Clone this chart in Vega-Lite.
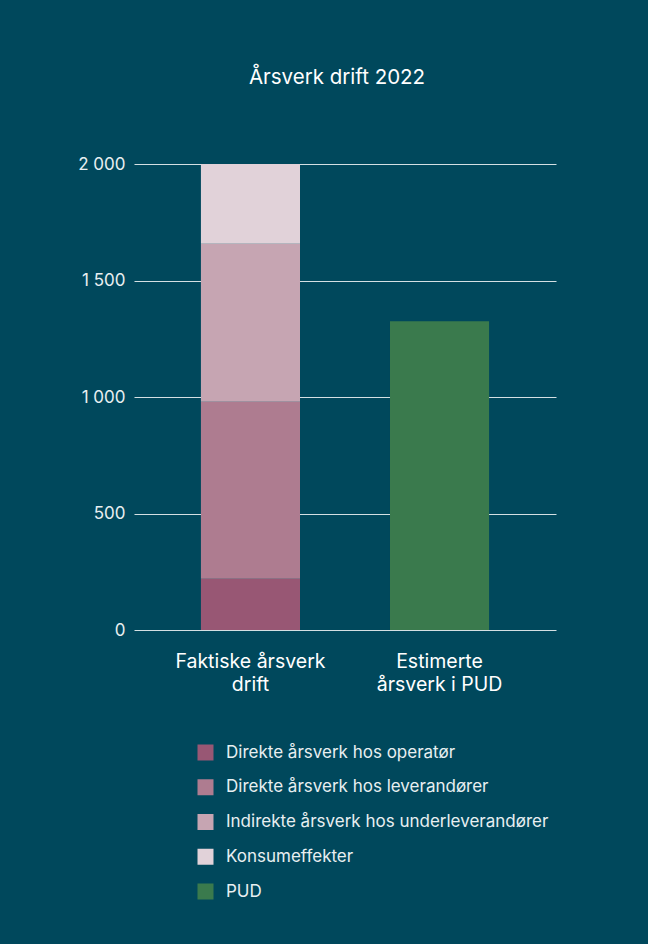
{
  "$schema": "https://vega.github.io/schema/vega-lite/v6.json",
  "width": 422,
  "height": 466,
  "autosize": {"type": "none"},
  "padding": {"left": 134, "top": 164, "right": 92, "bottom": 314},
  "background": "#00485c",
  "title": {
    "text": "Årsverk drift 2022",
    "anchor": "middle",
    "offset": 67,
    "dx": -8,
    "font": "Inter",
    "fontSize": 20.5,
    "fontWeight": "normal",
    "color": "#ffffff"
  },
  "config": {
    "locale": {"number": {"decimal": ",", "thousands": " ", "grouping": [3], "currency": ["", " kr"]}},
    "view": {"stroke": null},
    "font": "Inter"
  },
  "data": {
    "values": [
      {"kategori": "Faktiske årsverk drift", "type": "Direkte årsverk hos operatør", "arsverk": 220},
      {"kategori": "Faktiske årsverk drift", "type": "Direkte årsverk hos leverandører", "arsverk": 760},
      {"kategori": "Faktiske årsverk drift", "type": "Indirekte årsverk hos underleverandører", "arsverk": 678},
      {"kategori": "Faktiske årsverk drift", "type": "Konsumeffekter", "arsverk": 342},
      {"kategori": "Estimerte årsverk i PUD", "type": "PUD", "arsverk": 1325}
    ]
  },
  "transform": [
    {"calculate": "indexof(['Direkte årsverk hos operatør', 'Direkte årsverk hos leverandører', 'Indirekte årsverk hos underleverandører', 'Konsumeffekter', 'PUD'], datum.type)", "as": "rekkefolge"}
  ],
  "mark": {"type": "bar"},
  "encoding": {
    "x": {
      "field": "kategori",
      "type": "nominal",
      "sort": ["Faktiske årsverk drift", "Estimerte årsverk i PUD"],
      "scale": {"paddingInner": 0.476, "paddingOuter": 0.354},
      "axis": {
        "title": null,
        "labelAngle": 0,
        "domain": false,
        "ticks": false,
        "labelExpr": "datum.value == 'Faktiske årsverk drift' ? ['Faktiske årsverk', 'drift'] : ['Estimerte', 'årsverk i PUD']",
        "labelFont": "Inter",
        "labelFontSize": 19.5,
        "labelColor": "#ffffff",
        "labelPadding": 22,
        "labelLineHeight": 23
      }
    },
    "y": {
      "field": "arsverk",
      "type": "quantitative",
      "stack": "zero",
      "scale": {"domain": [0, 2000], "nice": false},
      "axis": {
        "title": null,
        "values": [0, 500, 1000, 1500, 2000],
        "format": ",d",
        "domain": false,
        "ticks": false,
        "grid": true,
        "gridColor": "#d4e0e3",
        "gridWidth": 1,
        "gridOpacity": 1,
        "labelFont": "Inter",
        "labelFontSize": 17,
        "labelColor": "#e8eff1",
        "labelPadding": 9
      }
    },
    "order": {"field": "rekkefolge", "type": "quantitative", "sort": "ascending"},
    "color": {
      "field": "type",
      "type": "nominal",
      "scale": {
        "domain": ["Direkte årsverk hos operatør", "Direkte årsverk hos leverandører", "Indirekte årsverk hos underleverandører", "Konsumeffekter", "PUD"],
        "range": ["#985774", "#ae7c90", "#c6a5b2", "#e1d2d9", "#3a7a4d"]
      },
      "legend": {
        "orient": "none",
        "legendX": 63,
        "legendY": 580,
        "title": null,
        "symbolType": "square",
        "symbolSize": 256,
        "symbolStrokeWidth": 0,
        "symbolOpacity": 1,
        "labelFont": "Inter",
        "labelFontSize": 17,
        "labelColor": "#e8eff1",
        "labelOffset": 12,
        "rowPadding": 16.75,
        "labelLimit": 400
      }
    }
  }
}
